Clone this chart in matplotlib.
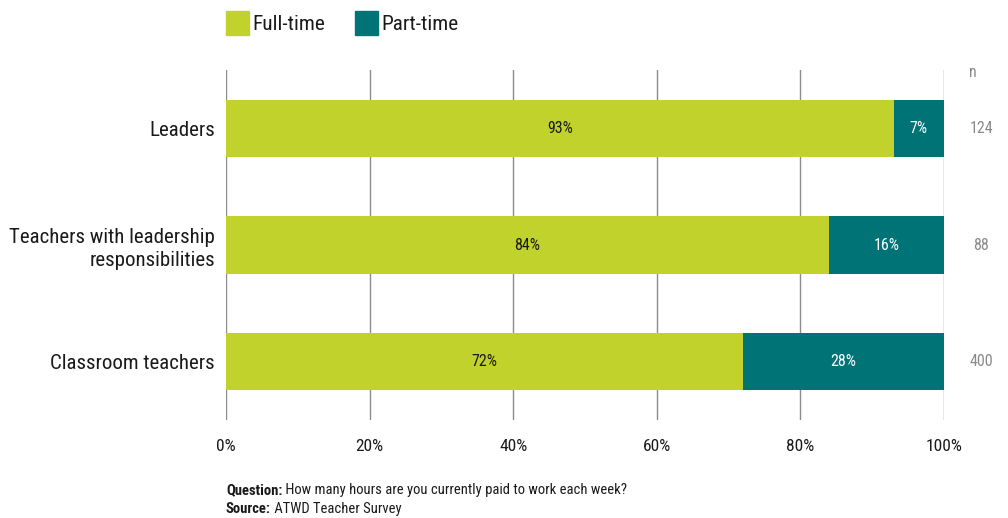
import matplotlib
matplotlib.use("Agg")
import matplotlib.pyplot as plt
from matplotlib.patches import Rectangle

plt.rcParams['font.family'] = ['Roboto Condensed', 'DejaVu Sans']

categories = ["Leaders", "Teachers with leadership\nresponsibilities", "Classroom teachers"]
full_time = [93, 84, 72]
part_time = [7, 16, 28]
n_values = [124, 88, 400]
series_names = ["Full-time", "Part-time"]
xticks = [0, 20, 40, 60, 80, 100]
footnotes = [("Question:", " How many hours are you currently paid to work each week?"),
             ("Source:", " ATWD Teacher Survey")]

FULL_COLOR = "#c0d22b"
PART_COLOR = "#007377"
GRID_COLOR = "#8c8c8c"
TEXT_COLOR = "#1a1a1a"
N_COLOR = "#8a8a8a"

fig = plt.figure(figsize=(10.08, 5.18), dpi=100)
W, H = 1008, 518
ax = fig.add_axes([226 / W, 1 - 420 / H, (944 - 226) / W, (420 - 70) / H])

y = list(range(len(categories)))
bar_h = 0.49
ax.barh(y, full_time, height=bar_h, color=FULL_COLOR, zorder=2)
ax.barh(y, part_time, left=full_time, height=bar_h, color=PART_COLOR, zorder=2)

for i in y:
    ax.text(full_time[i] / 2, i, f"{full_time[i]}%", ha="center", va="center",
            fontsize=11.5, color=TEXT_COLOR, zorder=3)
    ax.text(full_time[i] + part_time[i] / 2, i, f"{part_time[i]}%", ha="center",
            va="center", fontsize=11.5, color="white", zorder=3)
    ax.text(1.052, i, str(n_values[i]), transform=ax.get_yaxis_transform(),
            ha="center", va="center", fontsize=11.5, color=N_COLOR)
ax.text(1.040, -0.48, "n", transform=ax.get_yaxis_transform(), ha="center",
        va="center", fontsize=11.5, color=N_COLOR)

ax.set_xlim(0, 100)
ax.set_ylim(2.5, -0.5)
ax.set_xticks(xticks)
ax.set_xticklabels([f"{t}%" for t in xticks], fontsize=12.5, color=TEXT_COLOR)
ax.set_yticks(y)
ax.set_yticklabels(categories, fontsize=15, color=TEXT_COLOR, linespacing=1.28)
ax.tick_params(axis="both", length=0)
ax.tick_params(axis="x", pad=14)
ax.tick_params(axis="y", pad=8)
for s in ax.spines.values():
    s.set_visible(False)
ax.grid(axis="x", color=GRID_COLOR, linewidth=1, zorder=0)
ax.set_axisbelow(True)

# legend
for xpos, name, col in zip([226, 355], series_names, [FULL_COLOR, PART_COLOR]):
    fig.patches.append(Rectangle((xpos / W, 1 - 35 / H), 23 / W, 24 / H,
                                 transform=fig.transFigure, color=col))
    fig.text((xpos + 26) / W, 1 - 24 / H, name, fontsize=15.3, va="center",
             ha="left", color=TEXT_COLOR)

# footnotes: bold lead-in followed by regular text
fig.canvas.draw()
r = fig.canvas.get_renderer()
for (head, rest), yy in zip(footnotes, [490, 509]):
    t = fig.text(226 / W, 1 - yy / H, head, fontsize=10.5, va="center",
                 fontweight="bold", color=TEXT_COLOR)
    bb = t.get_window_extent(r)
    fig.text(bb.x1 / W, 1 - yy / H, rest, fontsize=10.5, va="center", color=TEXT_COLOR)

fig.savefig("out.png", dpi=100)
